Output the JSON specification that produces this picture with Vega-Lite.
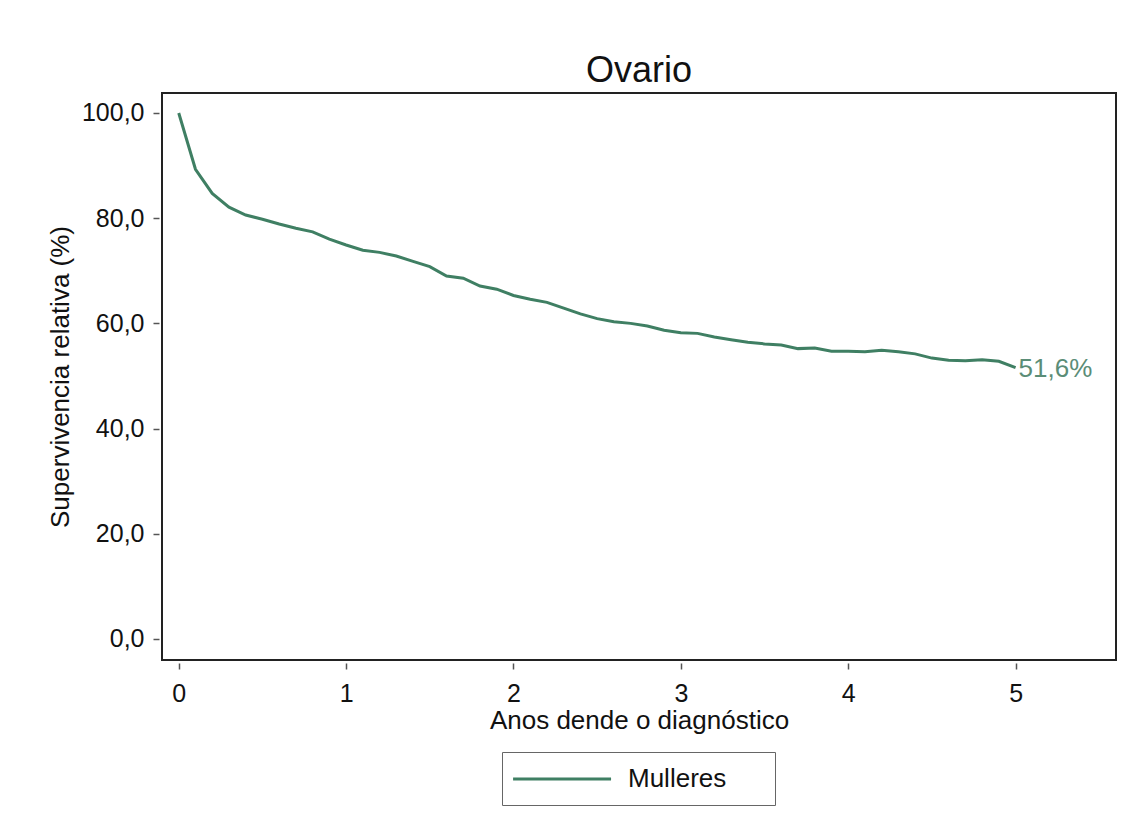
{
  "$schema": "https://vega.github.io/schema/vega-lite/v6.json",
  "width": 954,
  "height": 567,
  "padding": {"left": 47, "top": 53, "right": 10, "bottom": 10},
  "background": "white",
  "config": {
    "font": "Liberation Sans",
    "locale": {"number": {"decimal": ",", "thousands": ".", "grouping": [3], "currency": ["", " €"]}},
    "view": {"stroke": "#222222", "strokeWidth": 2},
    "axis": {
      "labelFont": "Liberation Sans", "titleFont": "Liberation Sans",
      "labelFontSize": 25, "titleFontSize": 26, "labelColor": "#111", "titleColor": "#111",
      "titleFontWeight": "normal", "grid": false, "domain": false,
      "tickColor": "#555", "tickSize": 6, "tickWidth": 1.5, "offset": 3
    },
    "legend": {"labelFont": "Liberation Sans"}
  },
  "title": {"text": "Ovario", "fontSize": 36, "font": "Liberation Sans", "fontWeight": "normal", "color": "#111", "offset": 3, "anchor": "middle"},
  "layer": [
    {
      "data": {"values": [
        {"t": 0.0, "s": 100.0, "grupo": "Mulleres"},
        {"t": 0.1, "s": 89.3, "grupo": "Mulleres"},
        {"t": 0.2, "s": 84.7, "grupo": "Mulleres"},
        {"t": 0.3, "s": 82.1, "grupo": "Mulleres"},
        {"t": 0.4, "s": 80.6, "grupo": "Mulleres"},
        {"t": 0.5, "s": 79.8, "grupo": "Mulleres"},
        {"t": 0.6, "s": 78.9, "grupo": "Mulleres"},
        {"t": 0.7, "s": 78.1, "grupo": "Mulleres"},
        {"t": 0.8, "s": 77.4, "grupo": "Mulleres"},
        {"t": 0.9, "s": 76.0, "grupo": "Mulleres"},
        {"t": 1.0, "s": 74.9, "grupo": "Mulleres"},
        {"t": 1.1, "s": 73.9, "grupo": "Mulleres"},
        {"t": 1.2, "s": 73.5, "grupo": "Mulleres"},
        {"t": 1.3, "s": 72.8, "grupo": "Mulleres"},
        {"t": 1.4, "s": 71.8, "grupo": "Mulleres"},
        {"t": 1.5, "s": 70.8, "grupo": "Mulleres"},
        {"t": 1.6, "s": 69.0, "grupo": "Mulleres"},
        {"t": 1.7, "s": 68.6, "grupo": "Mulleres"},
        {"t": 1.8, "s": 67.1, "grupo": "Mulleres"},
        {"t": 1.9, "s": 66.5, "grupo": "Mulleres"},
        {"t": 2.0, "s": 65.3, "grupo": "Mulleres"},
        {"t": 2.1, "s": 64.6, "grupo": "Mulleres"},
        {"t": 2.2, "s": 64.0, "grupo": "Mulleres"},
        {"t": 2.3, "s": 62.9, "grupo": "Mulleres"},
        {"t": 2.4, "s": 61.8, "grupo": "Mulleres"},
        {"t": 2.5, "s": 60.9, "grupo": "Mulleres"},
        {"t": 2.6, "s": 60.3, "grupo": "Mulleres"},
        {"t": 2.7, "s": 60.0, "grupo": "Mulleres"},
        {"t": 2.8, "s": 59.5, "grupo": "Mulleres"},
        {"t": 2.9, "s": 58.7, "grupo": "Mulleres"},
        {"t": 3.0, "s": 58.2, "grupo": "Mulleres"},
        {"t": 3.1, "s": 58.1, "grupo": "Mulleres"},
        {"t": 3.2, "s": 57.4, "grupo": "Mulleres"},
        {"t": 3.3, "s": 56.9, "grupo": "Mulleres"},
        {"t": 3.4, "s": 56.4, "grupo": "Mulleres"},
        {"t": 3.5, "s": 56.1, "grupo": "Mulleres"},
        {"t": 3.6, "s": 55.9, "grupo": "Mulleres"},
        {"t": 3.7, "s": 55.2, "grupo": "Mulleres"},
        {"t": 3.8, "s": 55.3, "grupo": "Mulleres"},
        {"t": 3.9, "s": 54.7, "grupo": "Mulleres"},
        {"t": 4.0, "s": 54.7, "grupo": "Mulleres"},
        {"t": 4.1, "s": 54.6, "grupo": "Mulleres"},
        {"t": 4.2, "s": 54.9, "grupo": "Mulleres"},
        {"t": 4.3, "s": 54.6, "grupo": "Mulleres"},
        {"t": 4.4, "s": 54.2, "grupo": "Mulleres"},
        {"t": 4.5, "s": 53.4, "grupo": "Mulleres"},
        {"t": 4.6, "s": 53.0, "grupo": "Mulleres"},
        {"t": 4.7, "s": 52.9, "grupo": "Mulleres"},
        {"t": 4.8, "s": 53.1, "grupo": "Mulleres"},
        {"t": 4.9, "s": 52.8, "grupo": "Mulleres"},
        {"t": 5.0, "s": 51.6, "grupo": "Mulleres"}
      ]},
      "mark": {"type": "line", "strokeWidth": 3},
      "encoding": {
        "x": {"field": "t", "type": "quantitative",
          "scale": {"domain": [-0.1, 5.6], "nice": false, "zero": false},
          "axis": {"values": [0, 1, 2, 3, 4, 5], "format": "d", "title": "Anos dende o diagnóstico", "titlePadding": 1, "labelPadding": 12}},
        "y": {"field": "s", "type": "quantitative",
          "scale": {"domain": [-4, 103.8], "nice": false, "zero": false},
          "axis": {"values": [0, 20, 40, 60, 80, 100], "format": ".1f", "title": "Supervivencia relativa (%)", "titlePadding": 8, "labelPadding": 9}},
        "color": {"field": "grupo", "type": "nominal",
          "scale": {"range": ["#3f7f63"]},
          "legend": {"title": null, "orient": "none", "legendX": 340, "legendY": 659,
            "symbolType": "M-1.3,0H6.7M18.5,0", "symbolSize": 600, "symbolStrokeWidth": 3,
            "labelFontSize": 26, "labelColor": "#111", "strokeColor": "#666",
            "padding": 13, "labelOffset": 85}}
      }
    },
    {
      "data": {"values": [{"t": 5.0, "s": 51.6, "label": "51,6%"}]},
      "mark": {"type": "text", "align": "left", "baseline": "middle", "dx": 3, "dy": 1, "fontSize": 26, "color": "#5b8d77", "font": "Liberation Sans"},
      "encoding": {
        "x": {"field": "t", "type": "quantitative"},
        "y": {"field": "s", "type": "quantitative"},
        "text": {"field": "label"}
      }
    }
  ]
}
